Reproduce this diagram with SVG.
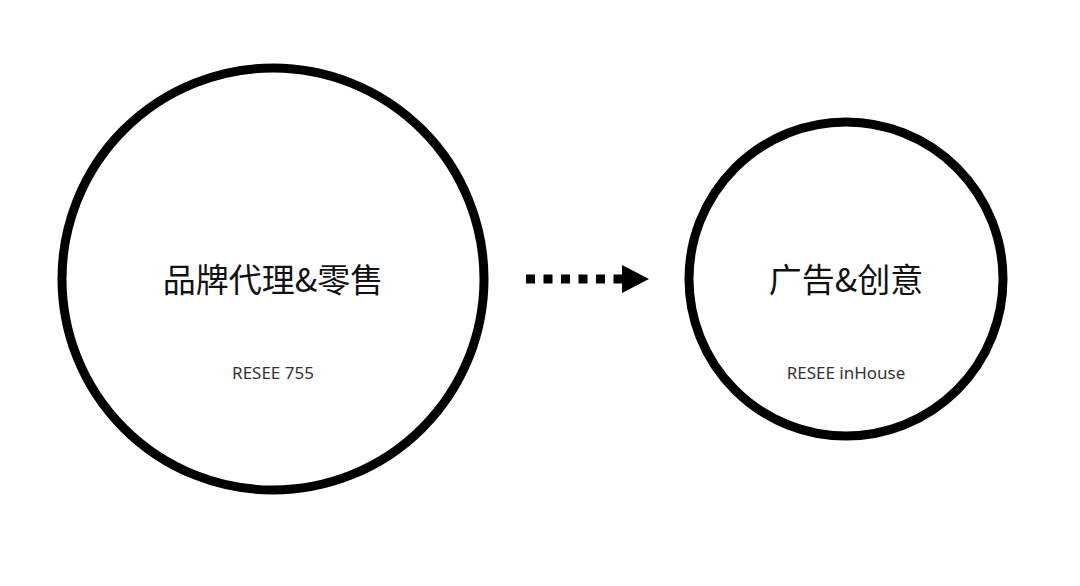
<svg xmlns="http://www.w3.org/2000/svg" width="1080" height="586" viewBox="0 0 1080 586">
<style>
.c{fill:none;stroke:#000;stroke-width:9}
.t{font-family:"Noto Sans CJK SC","Noto Sans",sans-serif;font-size:33px;fill:#111;text-anchor:middle}
.s{font-family:"Noto Sans","Liberation Sans",sans-serif;font-size:17px;fill:#333;text-anchor:middle}
</style>
<rect width="1080" height="586" fill="#fff"/>
<g id="node-left">
<circle class="c" cx="273" cy="279" r="211"/>
<text class="t" x="273" y="292">品牌代理&amp;零售</text>
<text class="s" x="273" y="379">RESEE 755</text>
</g>
<g id="node-right">
<circle class="c" cx="846" cy="279" r="157"/>
<text class="t" x="846" y="292">广告&amp;创意</text>
<text class="s" x="846" y="379">RESEE inHouse</text>
</g>
<g id="connectors">
<line x1="526" y1="279" x2="624" y2="279" stroke="#000" stroke-width="9" stroke-dasharray="9 8.5"/>
<polygon points="622,265 649,279 622,293" fill="#000"/>
</g>
</svg>
